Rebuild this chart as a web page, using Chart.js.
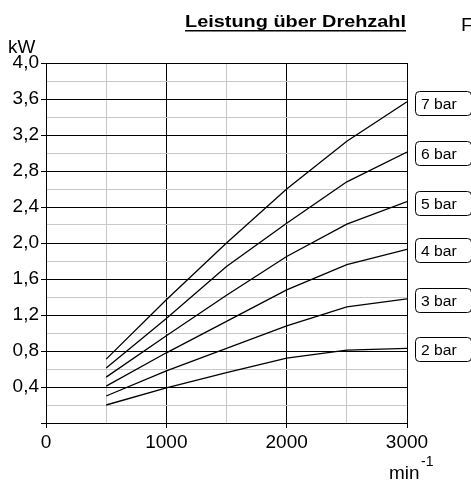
<!DOCTYPE html>
<html>
<head>
<meta charset="utf-8">
<script src="https://cdn.jsdelivr.net/npm/chart.js@4/dist/chart.umd.min.js"></script>
<style>
  html, body { margin: 0; padding: 0; background: #fff; }
  canvas { display: block; }
</style>
</head>
<body>
<canvas id="chart" width="471" height="480"></canvas>
<script>
// Drehzahl (min^-1)
const rpm = [500, 1000, 1500, 2000, 2500, 3000];
// Leistung (kW) je Druck
const bar2 = [0.20, 0.39, 0.56, 0.72, 0.81, 0.83];
const bar3 = [0.30, 0.58, 0.83, 1.08, 1.29, 1.38];
const bar4 = [0.41, 0.78, 1.13, 1.48, 1.76, 1.93];
const bar5 = [0.51, 0.97, 1.42, 1.85, 2.21, 2.46];
const bar6 = [0.61, 1.16, 1.74, 2.22, 2.68, 3.01];
const bar7 = [0.71, 1.37, 2.00, 2.60, 3.13, 3.57];
const seriesNames = ['2 bar', '3 bar', '4 bar', '5 bar', '6 bar', '7 bar'];
const seriesValues = [bar2, bar3, bar4, bar5, bar6, bar7];

const FONT = '"Liberation Sans", Arial, sans-serif';
const minorColor = '#c8c8c8';

function isMajorY(v) { return Math.round(v * 10) % 4 === 0; }
function isMajorX(v) { return Math.round(v) % 1000 === 0; }

// stretched text, the original uses a wide Helvetica
function wideText(ctx, text, x, y, font, sx, align) {
    ctx.save();
    ctx.font = font;
    let w = ctx.measureText(text).width * sx;
    let left = align === 'right' ? x - w : x;
    ctx.translate(left, y);
    ctx.scale(sx, 1);
    ctx.textAlign = 'left';
    ctx.fillText(text, 0, 0);
    ctx.restore();
    return w;
}

const decorations = {
    id: 'decorations',
    afterDraw(chart) {
        const ctx = chart.ctx;
        const y = chart.scales.y;
        ctx.save();
        ctx.fillStyle = '#000';
        ctx.strokeStyle = '#000';
        ctx.textBaseline = 'alphabetic';

        // title
        let w = wideText(ctx, 'Leistung über Drehzahl', 185, 27, 'bold 17px ' + FONT, 1.17);
        ctx.lineWidth = 1.6;
        ctx.beginPath();
        ctx.moveTo(185, 30.8);
        ctx.lineTo(185 + w, 30.8);
        ctx.stroke();
        wideText(ctx, 'F', 461, 31, '18px ' + FONT, 1.1);

        // axis units
        wideText(ctx, 'kW', 8, 53, '18px ' + FONT, 1.05);
        wideText(ctx, 'min', 389, 479, '18px ' + FONT, 1.05);
        wideText(ctx, '-1', 421, 466, '14px ' + FONT, 1.0);

        // series labels at line ends
        ctx.lineWidth = 1;
        seriesNames.forEach(function(name, i) {
            const vals = seriesValues[i];
            const cy = Math.round(y.getPixelForValue(vals[vals.length - 1])) + 1.5;
            const bx = 415.5, bw = 56, bh = 24;
            ctx.beginPath();
            ctx.roundRect(bx, cy - bh / 2, bw, bh, 4);
            ctx.fillStyle = '#fff';
            ctx.fill();
            ctx.stroke();
            ctx.fillStyle = '#000';
            wideText(ctx, name, 421, cy + 5.5, '14px ' + FONT, 1.12);
        });
        ctx.restore();
    }
};

const config = {
    type: 'line',
    data: {
        datasets: seriesNames.map(function(name, i) {
            return {
                label: name,
                data: rpm.map(function(r, j) { return {x: r, y: seriesValues[i][j]}; }),
                borderColor: '#000',
                borderWidth: 1.3,
                pointRadius: 0,
                fill: false,
                tension: 0
            };
        })
    },
    options: {
        responsive: false,
        animation: false,
        layout: {
            padding: {top: 63, right: 64, left: 0, bottom: 0}
        },
        plugins: {
            legend: { display: false },
            tooltip: { enabled: false }
        },
        scales: {
            x: {
                type: 'linear',
                min: 0,
                max: 3000,
                afterFit: function(scale) { scale.height = 57; },
                border: { color: '#000', width: 1 },
                grid: {
                    color: function(context) {
                        return isMajorX(context.tick.value) ? '#000' : minorColor;
                    },
                    tickColor: function(context) {
                        return isMajorX(context.tick.value) ? '#000' : 'rgba(0,0,0,0)';
                    },
                    tickLength: 5,
                    lineWidth: 1
                },
                ticks: {
                    stepSize: 500,
                    autoSkip: false,
                    maxRotation: 0,
                    padding: 3,
                    color: '#000',
                    font: { family: FONT, size: 19 },
                    callback: function(value) {
                        return isMajorX(value) ? String(value) : '';
                    }
                }
            },
            y: {
                min: 0,
                max: 4,
                afterFit: function(scale) { scale.width = 46; },
                border: { color: '#000', width: 1 },
                grid: {
                    color: function(context) {
                        return isMajorY(context.tick.value) ? '#000' : minorColor;
                    },
                    tickColor: function(context) {
                        return isMajorY(context.tick.value) ? '#000' : 'rgba(0,0,0,0)';
                    },
                    tickLength: 5,
                    lineWidth: 1
                },
                ticks: {
                    stepSize: 0.2,
                    autoSkip: false,
                    padding: 2,
                    color: '#000',
                    font: { family: FONT, size: 19 },
                    callback: function(value) {
                        if (Math.round(value * 10) === 0 || !isMajorY(value)) {
                            return '';
                        }
                        return value.toFixed(1).replace('.', ',');
                    }
                }
            }
        }
    },
    plugins: [decorations]
};

new Chart(document.getElementById('chart').getContext('2d'), config);
</script>
</body>
</html>
